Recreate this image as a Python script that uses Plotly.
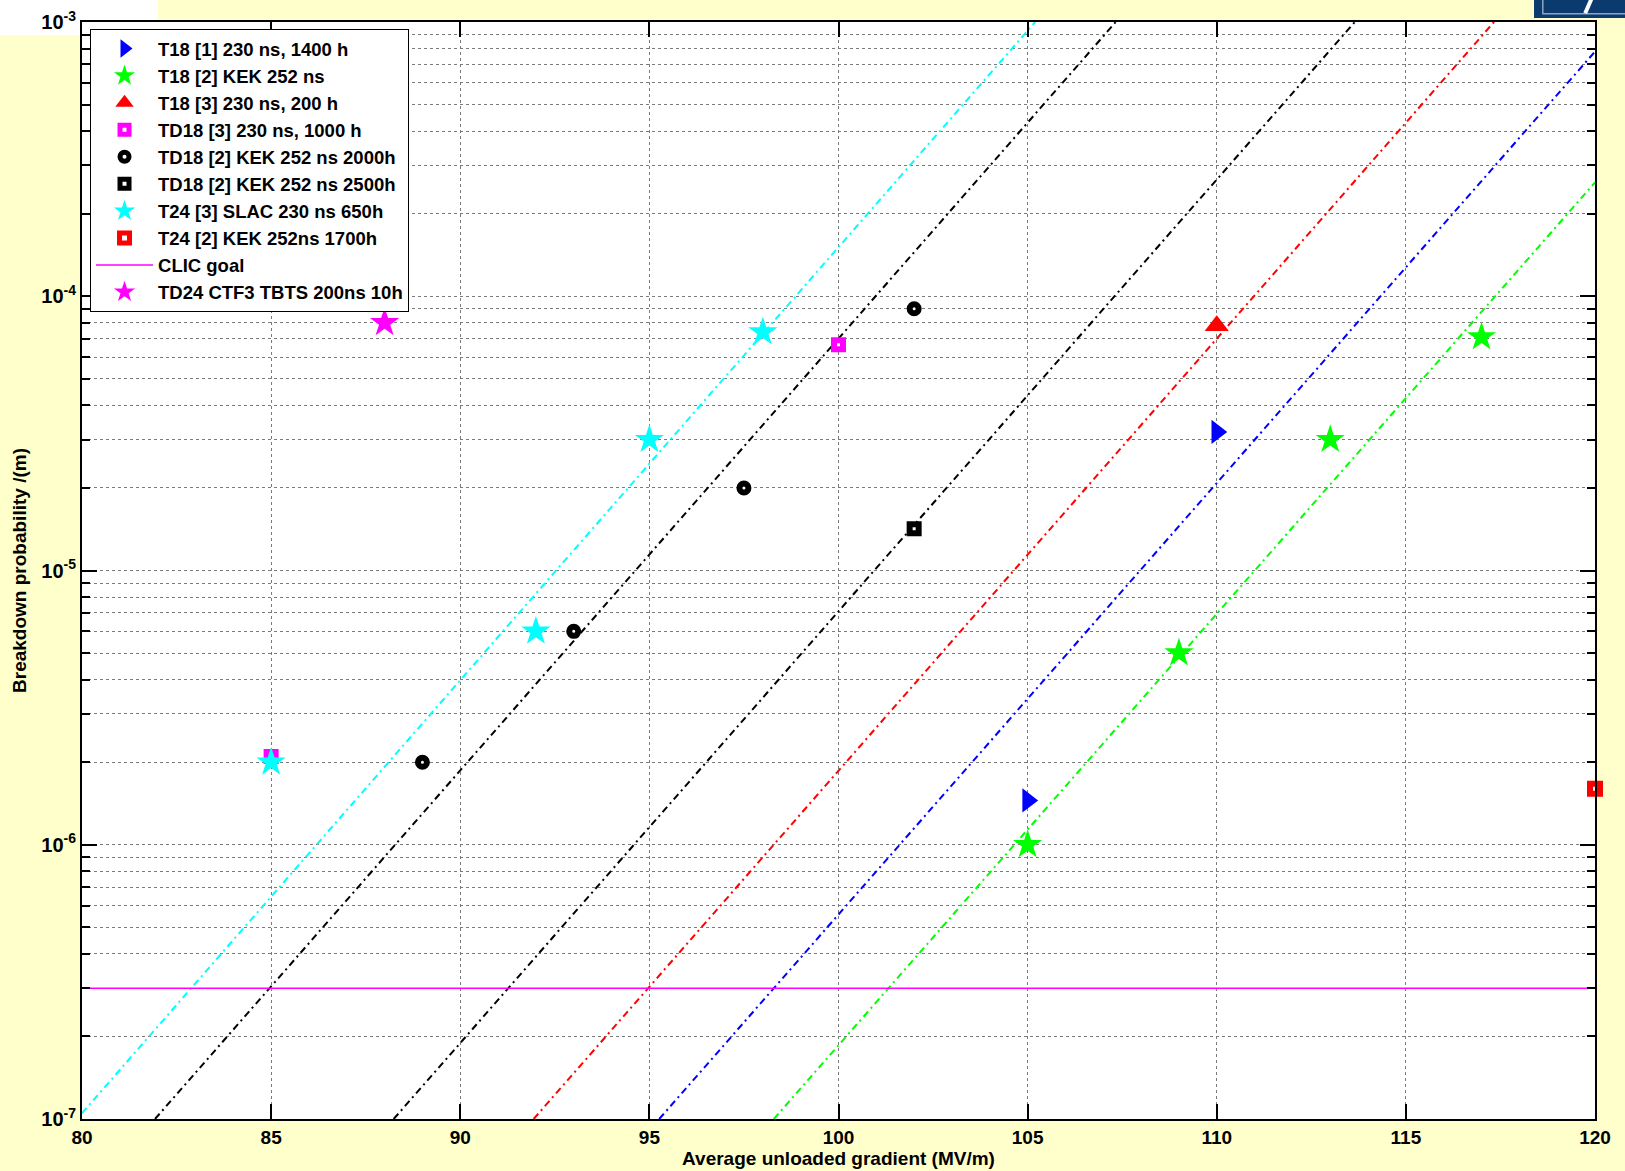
import plotly.graph_objects as go

# Breakdown-rate data: average unloaded gradient (MV/m) vs breakdown probability (1/m)
t18_1_x = [105, 110]
t18_1_y = [1.45e-6, 3.2e-5]

t18_2_x = [105, 109, 113, 117]
t18_2_y = [1.0e-6, 5.0e-6, 3.0e-5, 7.1e-5]

t18_3_x = [110]
t18_3_y = [7.8e-5]

td18_3_x = [85, 100]
td18_3_y = [2.1e-6, 6.65e-5]

td18_2000_x = [89, 93, 97.5, 102]
td18_2000_y = [2.0e-6, 6.0e-6, 2.0e-5, 9.0e-5]

td18_2500_x = [102]
td18_2500_y = [1.42e-5]

t24_3_x = [85, 92, 95, 98]
t24_3_y = [2.0e-6, 6.0e-6, 3.0e-5, 7.4e-5]

t24_2_x = [120]
t24_2_y = [1.6e-6]

clic_x = [80, 120]
clic_y = [3e-7, 3e-7]

td24_x = [88]
td24_y = [8.0e-5]

# Scaling fit lines (end points)
fit_cyan_x = [80, 105.2]
fit_cyan_y = [1.05e-7, 1e-3]
fit_black1_x = [81.93, 107.33]
fit_black1_y = [1e-7, 1e-3]
fit_black2_x = [88.24, 113.65]
fit_black2_y = [1e-7, 1e-3]
fit_red_x = [91.94, 117.33]
fit_red_y = [1e-7, 1e-3]
fit_blue_x = [95.26, 120]
fit_blue_y = [1e-7, 7.8e-4]
fit_green_x = [98.29, 120]
fit_green_y = [1e-7, 2.6e-4]

x_ticks = [80, 85, 90, 95, 100, 105, 110, 115, 120]
y_ticks = [1e-7, 1e-6, 1e-5, 1e-4, 1e-3]
y_ticktext = ["10<sup>-7</sup>", "10<sup>-6</sup>", "10<sup>-5</sup>",
              "10<sup>-4</sup>", "10<sup>-3</sup>"]

FONT = "Liberation Sans, Arial, sans-serif"
BG = "#FFFFCC"
DASHDOT = "7px,4px,2px,4px"

fig = go.Figure()

for fx, fy, col in [
    (fit_cyan_x, fit_cyan_y, "#00FFFF"),
    (fit_black1_x, fit_black1_y, "#000000"),
    (fit_black2_x, fit_black2_y, "#000000"),
    (fit_red_x, fit_red_y, "#FF0000"),
    (fit_blue_x, fit_blue_y, "#0000FF"),
    (fit_green_x, fit_green_y, "#00FF00"),
]:
    fig.add_trace(go.Scatter(x=fx, y=fy, mode="lines", showlegend=False,
                             hoverinfo="skip",
                             line=dict(color=col, width=2, dash=DASHDOT)))

fig.add_trace(go.Scatter(
    x=t18_1_x, y=t18_1_y, mode="markers", name="T18 [1] 230 ns, 1400 h",
    marker=dict(symbol="triangle-right", size=21, color="#0000FF")))
fig.add_trace(go.Scatter(
    x=t18_2_x, y=t18_2_y, mode="markers", name="T18 [2] KEK 252 ns",
    marker=dict(symbol="star", size=22, color="#00FF00")))
fig.add_trace(go.Scatter(
    x=t18_3_x, y=t18_3_y, mode="markers", name="T18 [3] 230 ns, 200 h",
    marker=dict(symbol="triangle-up", size=21, color="#FF0000")))
fig.add_trace(go.Scatter(
    x=td18_3_x, y=td18_3_y, mode="markers", name="TD18 [3] 230 ns, 1000 h",
    marker=dict(symbol="square", size=9, color="white",
                line=dict(color="#FF00FF", width=6))))
fig.add_trace(go.Scatter(
    x=td18_2000_x, y=td18_2000_y, mode="markers",
    name="TD18 [2] KEK 252 ns 2000h",
    marker=dict(symbol="circle", size=9, color="white",
                line=dict(color="#000000", width=6))))
fig.add_trace(go.Scatter(
    x=td18_2500_x, y=td18_2500_y, mode="markers",
    name="TD18 [2] KEK 252 ns 2500h",
    marker=dict(symbol="square", size=9, color="white",
                line=dict(color="#000000", width=6))))
fig.add_trace(go.Scatter(
    x=t24_3_x, y=t24_3_y, mode="markers", name="T24 [3] SLAC 230 ns 650h",
    marker=dict(symbol="star", size=22, color="#00FFFF")))
fig.add_trace(go.Scatter(
    x=t24_2_x, y=t24_2_y, mode="markers", name="T24 [2] KEK 252ns 1700h",
    marker=dict(symbol="square", size=10, color="white",
                line=dict(color="#FF0000", width=6)), cliponaxis=False))
fig.add_trace(go.Scatter(
    x=clic_x, y=clic_y, mode="lines", name="CLIC goal",
    line=dict(color="#FF00FF", width=1.5)))
fig.add_trace(go.Scatter(
    x=td24_x, y=td24_y, mode="markers", name="TD24 CTF3 TBTS 200ns 10h",
    marker=dict(symbol="star", size=22, color="#FF00FF")))

grid_col = "#7a7a7a"

fig.update_xaxes(
    range=[80, 120], tickvals=x_ticks, ticktext=[str(v) for v in x_ticks],
    showline=True, linecolor="black", linewidth=2, mirror="allticks",
    ticks="inside", ticklen=15, tickcolor="black", tickwidth=1.5,
    showgrid=True, gridcolor=grid_col, gridwidth=1, griddash="dot",
    zeroline=False, automargin=False,
    tickfont=dict(family=FONT, size=19, color="black", weight="bold"),
    title=dict(text="Average unloaded gradient (MV/m)", standoff=4,
               font=dict(family=FONT, size=19, color="black", weight="bold")),
)
fig.update_yaxes(
    type="log", range=[-7, -3], tickvals=y_ticks, ticktext=y_ticktext,
    showline=True, linecolor="black", linewidth=2, mirror="allticks",
    ticks="inside", ticklen=15, tickcolor="black", tickwidth=1.5,
    showgrid=True, gridcolor=grid_col, gridwidth=1, griddash="dot",
    minor=dict(dtick="D1", showgrid=True, gridcolor=grid_col, gridwidth=1,
               griddash="dot", ticks="inside", ticklen=8, tickcolor="black"),
    zeroline=False, automargin=False,
    tickfont=dict(family=FONT, size=20, color="black", weight="bold"),
    title=dict(text="Breakdown probability /(m)", standoff=10,
               font=dict(family=FONT, size=19, color="black", weight="bold")),
)

fig.update_layout(
    width=1625, height=1171, autosize=False,
    margin=dict(l=82, r=30, t=22, b=52, pad=0),
    paper_bgcolor=BG, plot_bgcolor="white",
    font=dict(family=FONT, size=19, color="black"),
    legend=dict(
        x=0.0053, y=0.9936, xanchor="left", yanchor="top",
        bgcolor="white", bordercolor="black", borderwidth=1,
        font=dict(family=FONT, size=18.5, color="black", weight="bold"),
        itemwidth=57, tracegroupgap=0,
    ),
    shapes=[
        # blank header patch, top-left corner
        dict(type="rect", xref="paper", yref="paper",
             x0=-0.0542, x1=0.0502, y0=0.988, y1=1.03,
             fillcolor="white", line=dict(width=0), layer="below"),
        # emblem, top-right corner
        dict(type="rect", xref="paper", yref="paper",
             x0=0.9597, x1=1.03, y0=1.0036, y1=1.03,
             fillcolor="#0B3A6E", line=dict(width=0), layer="above"),
        dict(type="rect", xref="paper", yref="paper",
             x0=0.9655, x1=1.03, y0=1.0075, y1=1.03,
             fillcolor="rgba(0,0,0,0)", line=dict(color="#8FA4C4", width=1.5),
             layer="above"),
        dict(type="line", xref="paper", yref="paper",
             x0=0.9935, x1=1.0005, y0=1.008, y1=1.03,
             line=dict(color="white", width=4), layer="above"),
    ],
)

fig.write_html("out.html")
